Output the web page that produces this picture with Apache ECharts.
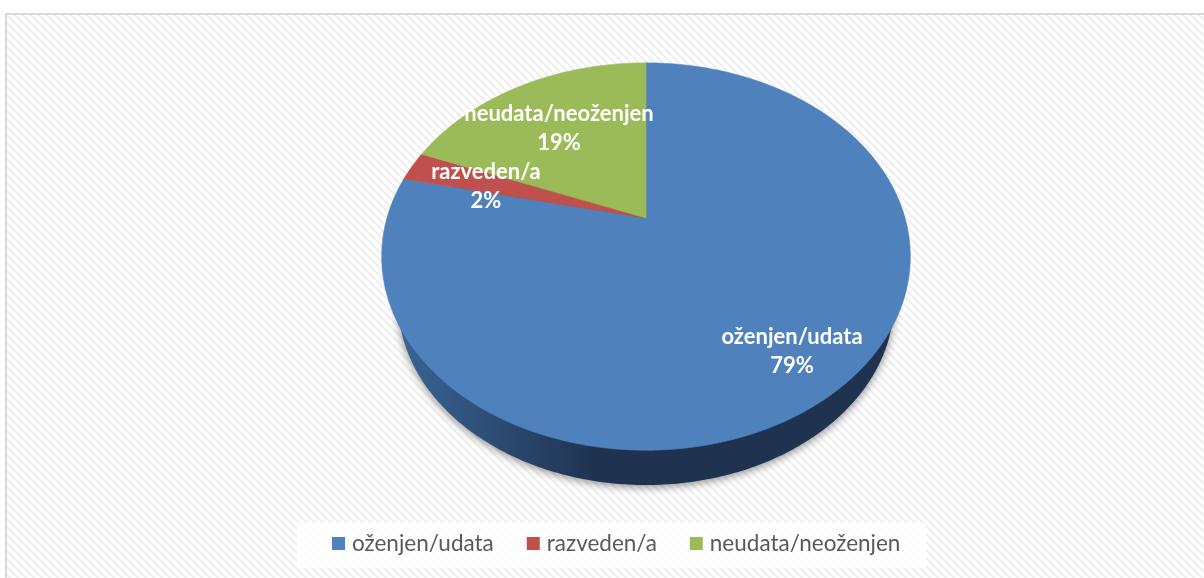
<!DOCTYPE html>
<html>
<head>
<meta charset="utf-8">
<style>html,body{margin:0;padding:0;background:#fff}#c{width:1204px;height:578px}</style>
<script src="https://cdn.jsdelivr.net/npm/echarts@6/dist/echarts.min.js"></script>
</head>
<body>
<div id="c"></div>
<script>
// Data
const categories = ['oženjen/udata', 'razveden/a', 'neudata/neoženjen'];
const shares = [78.51, 2.49, 19.0];
const colors = ['#4f81bd', '#c0504d', '#9bbb59'];
// Layout (perspective of the tilted pie)
const apex = {x: 646, y: 218}, persp = {a: 259, b: 186, k: 0.199};
const wallEllipse = {cx: 646, cy: 301.5, rx: 248, ry: 183.5};
const labelCentres = [[792, 351.5], [486, 186.5], [559, 128.5]];

const total = shares.reduce((a, b) => a + b, 0);
function project(theta) {
  const u = Math.sin(theta), v = Math.cos(theta), d = 1 + persp.k * v;
  return [apex.x + persp.a * u / d, apex.y - persp.b * v / d];
}
function slicePoints(idx) {
  const before = shares.slice(0, idx).reduce((a, b) => a + b, 0);
  const t0 = before / total * 2 * Math.PI, t1 = (before + shares[idx]) / total * 2 * Math.PI;
  const pts = [[apex.x, apex.y]], n = Math.max(4, Math.ceil((t1 - t0) * 90));
  for (let i = 0; i <= n; i++) pts.push(project(t0 + (t1 - t0) * i / n));
  return pts;
}
function wallPoints() {
  const pts = [];
  for (let i = 0; i < 360; i++) {
    const t = i / 360 * 2 * Math.PI;
    pts.push([wallEllipse.cx + wallEllipse.rx * Math.cos(t), wallEllipse.cy + wallEllipse.ry * Math.sin(t)]);
  }
  return pts;
}
const tile = document.createElement('canvas');
tile.width = tile.height = 8;
(function () {
  const g = tile.getContext('2d');
  g.fillStyle = '#ffffff'; g.fillRect(0, 0, 8, 8);
  g.strokeStyle = '#f1f1f1'; g.lineWidth = 2.8;
  [[-8, 0, 0, 8], [0, 0, 8, 8], [8, 0, 16, 8]].forEach(s => {
    g.beginPath(); g.moveTo(s[0], s[1]); g.lineTo(s[2], s[3]); g.stroke();
  });
})();

const sliceSeries = categories.map((name, idx) => ({
  type: 'custom', name, coordinateSystem: 'none', z: 3, silent: true,
  itemStyle: {color: colors[idx]},
  data: [[shares[idx]]],
  renderItem: () => ({
    type: 'polygon', shape: {points: slicePoints(idx)},
    style: {fill: colors[idx], stroke: colors[idx], lineWidth: 0.6}
  })
}));

const chart = echarts.init(document.getElementById('c'), null, {renderer: 'canvas'});
chart.setOption({
  animation: false,
  backgroundColor: '#fff',
  graphic: [
    {type: 'rect', z: 0, shape: {x: 6, y: 14, width: 1300, height: 700},
     style: {fill: {image: tile, repeat: 'repeat'}, stroke: '#d9d9d9', lineWidth: 2}},
    {type: 'rect', z: 1, shape: {x: 297, y: 523, width: 629, height: 45},
     style: {fill: 'rgba(255,255,255,0.85)'}}
  ],
  legend: {
    data: categories, left: 332, top: 532, padding: [0, 0], itemWidth: 13, itemHeight: 13, itemGap: 33,
    icon: 'rect', selectedMode: false,
    textStyle: {fontFamily: 'Lato', fontSize: 22.5, color: '#595959', padding: [0, 0, 0, 2]}
  },
  series: [
    {
      type: 'custom', name: 'wall', coordinateSystem: 'none', z: 2, silent: true,
      data: [[total]],
      renderItem: () => ({
        type: 'polygon', shape: {points: wallPoints()},
        style: {
          fill: new echarts.graphic.LinearGradient(0, 0, 1, 0, [
            {offset: 0, color: '#3a6595'}, {offset: 0.4, color: '#1f3350'}, {offset: 1, color: '#1f3350'}
          ]),
          shadowBlur: 9, shadowColor: 'rgba(0,0,0,0.45)', shadowOffsetY: 2
        }
      })
    },
    ...sliceSeries,
    {
      type: 'custom', name: 'labels', coordinateSystem: 'none', z: 5, silent: true,
      data: shares.map((v, i) => [v, i]),
      renderItem: (p, api) => {
        const i = api.value(1);
        return {
          type: 'text',
          style: {
            text: categories[i] + '\n' + Math.round(api.value(0)) + '%',
            x: labelCentres[i][0], y: labelCentres[i][1], align: 'center', verticalAlign: 'middle',
            fill: '#fff', fontFamily: 'Lato', fontWeight: 'bold', fontSize: 22, lineHeight: 29
          }
        };
      }
    }
  ]
});
</script>
</body>
</html>
